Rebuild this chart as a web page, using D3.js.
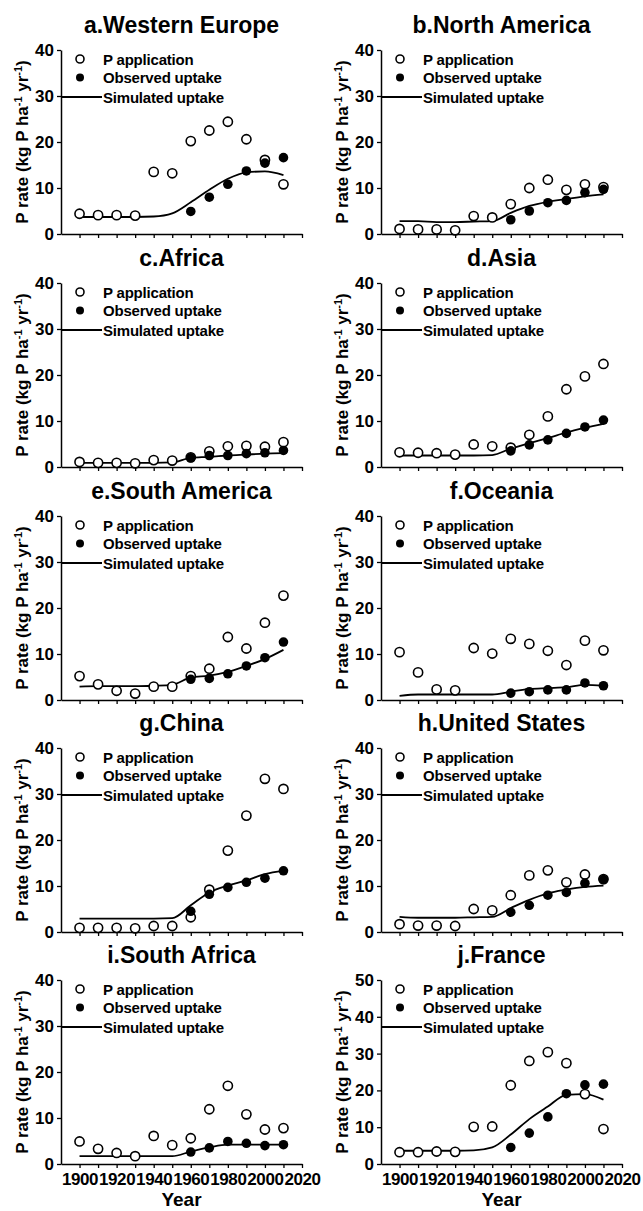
<!DOCTYPE html>
<html><head><meta charset="utf-8">
<script src="https://cdn.jsdelivr.net/npm/d3@7"></script>
<style>
body{margin:0;background:#fff}
svg text{font-family:"Liberation Sans",Arial,sans-serif;font-weight:bold;fill:#000}
</style>
</head><body>
<svg id="c" width="643" height="1211"></svg>
<script>
// ---- data ----
const years = [1900,1910,1920,1930,1940,1950,1960,1970,1980,1990,2000,2010];
const obsYears = [1960,1970,1980,1990,2000,2010];
const titles = ["a.Western Europe","b.North America","c.Africa","d.Asia","e.South America",
                "f.Oceania","g.China","h.United States","i.South Africa","j.France"];
const yMaxes = [40,40,40,40,40,40,40,40,40,50];
const yTicks40 = [0,10,20,30,40];
const yTicks50 = [0,10,20,30,40,50];
const xTickValues = [1900,1910,1920,1930,1940,1950,1960,1970,1980,1990,2000,2010,2020];
const xTickLabels = [1900,1920,1940,1960,1980,2000,2020];
const legendLabels = ["P application","Observed uptake","Simulated uptake"];
const xAxisTitle = "Year";

const appWE  = [4.4,4.1,4.1,4.0,13.5,13.2,20.2,22.5,24.4,20.6,16.1,10.8];
const obsWE  = [4.9,8.0,10.8,13.7,15.4,16.6];
const simWE  = [3.7,3.7,3.7,3.7,3.8,4.5,6.9,9.6,12.0,13.4,13.6,12.8];

const appNA  = [1.1,1.0,1.0,0.8,3.9,3.6,6.5,10.0,11.8,9.6,10.8,10.2];
const obsNA  = [3.1,5.0,6.8,7.3,9.0,9.7];
const simNA  = [2.8,2.8,2.6,2.6,2.7,2.8,4.6,6.1,7.0,7.6,8.2,8.6];

const appAF  = [1.1,0.9,0.9,0.8,1.5,1.4,2.1,3.4,4.5,4.6,4.4,5.4];
const obsAF  = [2.0,2.5,2.5,2.9,3.1,3.6];
const simAF  = [0.9,0.9,0.9,0.9,0.9,1.0,2.0,2.2,2.5,2.7,2.9,3.0];

const appAS  = [3.2,3.1,3.0,2.7,4.9,4.5,4.2,7.0,11.0,16.9,19.7,22.4];
const obsAS  = [3.5,4.8,5.9,7.3,8.7,10.2];
const simAS  = [2.5,2.5,2.5,2.5,2.5,2.6,4.0,5.2,6.3,7.5,8.5,9.4];

const appSA  = [5.2,3.4,2.0,1.4,2.9,2.9,5.2,6.8,13.7,11.2,16.8,22.7];
const obsSA  = [4.5,4.7,5.7,7.4,9.2,12.6];
const simSA  = [2.9,3.0,3.0,3.0,3.1,3.3,4.9,5.3,6.1,7.4,8.9,10.9];

const appOC  = [10.4,6.0,2.3,2.1,11.3,10.1,13.3,12.2,10.7,7.6,12.9,10.8];
const obsOC  = [1.5,1.8,2.2,2.2,3.7,3.1];
const simOC  = [0.9,1.2,1.2,1.2,1.2,1.2,1.8,2.4,2.6,2.8,3.3,3.1];

const appCN  = [0.9,0.9,0.9,0.8,1.3,1.3,3.2,9.2,17.7,25.3,33.3,31.1];
const obsCN  = [4.5,8.2,9.7,10.8,11.7,13.3];
const simCN  = [2.9,2.9,2.9,2.9,2.9,3.0,5.8,8.6,10.1,11.2,12.6,13.3];

const appUS  = [1.7,1.4,1.4,1.3,5.0,4.7,8.0,12.3,13.4,10.8,12.5,11.5];
const obsUS  = [4.3,5.8,8.0,8.6,10.6,11.4];
const simUS  = [3.3,3.1,3.1,3.1,3.2,3.3,5.2,7.0,8.4,9.2,9.8,10.1];

const appZA  = [4.9,3.3,2.4,1.7,6.1,4.1,5.6,11.9,17.0,10.8,7.5,7.8];
const obsZA  = [2.6,3.5,4.9,4.5,4.0,4.2];
const simZA  = [1.7,1.7,1.7,1.7,1.7,1.7,2.7,3.6,4.2,4.2,4.2,4.2];

const appFR  = [3.2,3.2,3.4,3.3,10.1,10.2,21.4,28.0,30.4,27.4,19.0,9.5];
const obsFR  = [4.5,8.4,12.8,19.1,21.5,21.7];
const simFR  = [3.6,3.6,3.6,3.6,3.7,4.5,8.0,12.2,15.6,18.8,19.0,17.5];

const appSeries = [appWE,appNA,appAF,appAS,appSA,appOC,appCN,appUS,appZA,appFR];
const obsSeries = [obsWE,obsNA,obsAF,obsAS,obsSA,obsOC,obsCN,obsUS,obsZA,obsFR];
const simSeries = [simWE,simNA,simAF,simAS,simSA,simOC,simCN,simUS,simZA,simFR];

// ---- layout ----
const svg = d3.select("#c");
const axisX = [61, 381];
const plotW = 241;
const tops = [50, 283, 516, 748, 980];
const plotH = 184;

titles.forEach((t, i) => {
  const col = i % 2, row = Math.floor(i / 2);
  const left = axisX[col], top = tops[row];
  const bottomRow = row === 4;
  const g = svg.append("g").attr("transform", `translate(${left},${top})`);

  const x = d3.scaleLinear().domain([1890, 2020]).range([0, plotW]);
  const y = d3.scaleLinear().domain([0, yMaxes[i]]).range([plotH, 0]);

  // title
  g.append("text").attr("x", plotW / 2).attr("y", -17)
    .attr("text-anchor", "middle").style("font-size", "23px").text(t);

  // axes
  const ya = g.append("g").call(d3.axisLeft(y)
      .tickValues(yMaxes[i] === 50 ? yTicks50 : yTicks40)
      .tickSize(4).tickSizeOuter(0).tickPadding(3));
  const xa = g.append("g").attr("transform", `translate(0,${plotH})`)
    .call(d3.axisBottom(x).tickValues(xTickValues)
      .tickSize(4).tickSizeOuter(0).tickPadding(4)
      .tickFormat(d => (bottomRow && xTickLabels.includes(d)) ? d : ""));
  [ya, xa].forEach(a => {
    a.select(".domain").attr("stroke", "#000").attr("stroke-width", 1.5);
    a.selectAll(".tick line").attr("stroke", "#000").attr("stroke-width", 1.3);
    a.selectAll(".tick text").style("font-size", "17px")
      .style("font-family", '"Liberation Sans",Arial,sans-serif').style("font-weight", "bold");
  });
  xa.selectAll(".tick text").attr("dy", "0.75em").style("letter-spacing", "-0.4px");

  // y label
  const yl = g.append("text")
    .attr("transform", `translate(-33,${plotH / 2}) rotate(-90)`)
    .attr("text-anchor", "middle").style("font-size", "17px");
  yl.append("tspan").text("P rate (kg P ha");
  yl.append("tspan").attr("dy", -6).style("font-size", "11px").text("-1");
  yl.append("tspan").attr("dy", 6).text(" yr");
  yl.append("tspan").attr("dy", -6).style("font-size", "11px").text("-1");
  yl.append("tspan").attr("dy", 6).text(")");

  if (bottomRow) {
    g.append("text").attr("x", plotW / 2).attr("y", plotH + 42)
      .attr("text-anchor", "middle").style("font-size", "19px").text(xAxisTitle);
  }

  // simulated line
  const line = d3.line().x((d, k) => x(years[k])).y(d => y(d)).curve(d3.curveMonotoneX);
  g.append("path").datum(simSeries[i]).attr("d", line)
    .attr("fill", "none").attr("stroke", "#000").attr("stroke-width", 1.8);

  // P application (open)
  g.selectAll(".app").data(appSeries[i]).join("circle")
    .attr("cx", (d, k) => x(years[k])).attr("cy", d => y(d)).attr("r", 4.6)
    .attr("fill", "#fff").attr("stroke", "#000").attr("stroke-width", 1.6);
  // observed (filled)
  g.selectAll(".obs").data(obsSeries[i]).join("circle")
    .attr("cx", (d, k) => x(obsYears[k])).attr("cy", d => y(d)).attr("r", 4.8)
    .attr("fill", "#000");

  // legend
  const lg = g.append("g");
  lg.append("circle").attr("cx", 19).attr("cy", 9).attr("r", 4)
    .attr("fill", "#fff").attr("stroke", "#000").attr("stroke-width", 1.6);
  lg.append("circle").attr("cx", 19).attr("cy", 27.5).attr("r", 4).attr("fill", "#000");
  lg.append("line").attr("x1", 1).attr("x2", 41).attr("y1", 47).attr("y2", 47)
    .attr("stroke", "#000").attr("stroke-width", 1.8);
  [9, 27.5, 47].forEach((cy, k) => {
    lg.append("text").attr("x", 42).attr("y", cy + 5.5)
      .style("font-size", "15px").style("letter-spacing", "-0.2px").text(legendLabels[k]);
  });
});
</script>
</body></html>
